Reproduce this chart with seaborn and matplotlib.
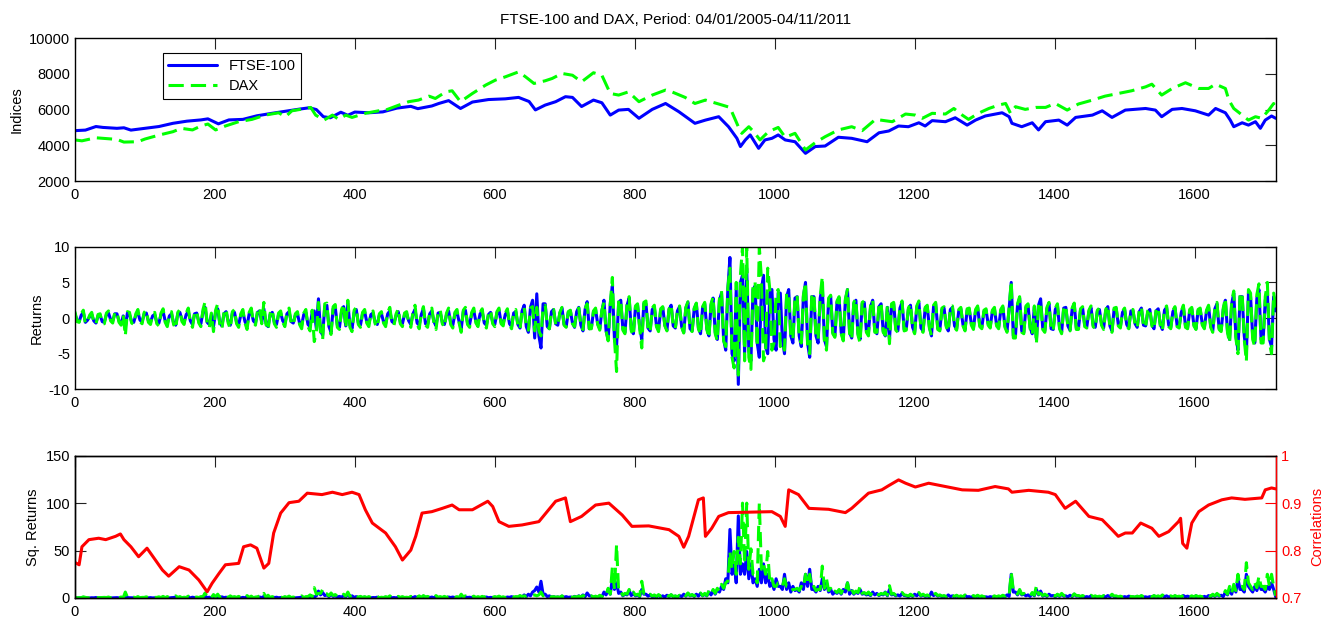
import numpy as np
import pandas as pd
import matplotlib
matplotlib.use("Agg")
import matplotlib.pyplot as plt
import seaborn as sns

# ---------------- data ----------------
title = "FTSE-100 and DAX, Period: 04/01/2005-04/11/2011"

ftse_days = [0, 15, 30, 40, 60, 70, 80, 100, 120, 140, 160, 180, 190, 205, 220, 240, 260, 280, 300, 320,
             335, 345, 355, 365, 380, 390, 400, 420, 440, 460, 480, 490, 510, 520, 534, 551, 568, 591, 615, 634,
             649, 658, 672, 687, 701, 711, 724, 741, 753, 765, 777, 791, 806, 825, 844, 863, 886, 901, 920, 934,
             946, 951, 958, 965, 977, 986, 996, 1005, 1015, 1029, 1044, 1058, 1072, 1091, 1110, 1132, 1149, 1163,
             1177, 1191, 1206, 1215, 1225, 1244, 1258, 1275, 1287, 1301, 1325, 1335, 1339, 1353, 1368, 1377, 1387,
             1406, 1418, 1430, 1454, 1468, 1482, 1501, 1530, 1544, 1553, 1568, 1582, 1601, 1620, 1630, 1644, 1651,
             1656, 1668, 1677, 1687, 1694, 1701, 1710, 1716]
ftse_index = [4820, 4850, 5050, 5000, 4950, 4980, 4850, 4950, 5050, 5230, 5350, 5420, 5480, 5200, 5420, 5450,
              5650, 5780, 5900, 6020, 6100, 6000, 5600, 5540, 5850, 5680, 5860, 5820, 5870, 6080, 6180, 6050,
              6200, 6340, 6500, 6060, 6420, 6560, 6600, 6680, 6450, 5980, 6250, 6440, 6720, 6680, 6170, 6530,
              6380, 5690, 5970, 6010, 5510, 6010, 6340, 5880, 5230, 5410, 5600, 5040, 4390, 3930, 4300, 4580,
              3830, 4300, 4390, 4580, 4300, 4200, 3550, 3930, 3960, 4450, 4390, 4200, 4700, 4800, 5080, 5040,
              5260, 5080, 5380, 5320, 5540, 5130, 5410, 5640, 5820, 5600, 5230, 5040, 5260, 4860, 5320, 5410,
              5130, 5560, 5690, 5930, 5560, 5970, 6060, 5970, 5600, 6010, 6060, 5930, 5690, 6060, 5820, 5410,
              5040, 5260, 5130, 5320, 4950, 5410, 5640, 5510]

dax_days = [0, 10, 30, 60, 70, 90, 100, 120, 140, 152, 168, 180, 190, 201, 215, 234, 253, 272, 291, 301, 310,
            330, 337, 344, 356, 368, 377, 387, 396, 415, 434, 444, 463, 477, 491, 506, 515, 530, 539, 551, 568,
            587, 601, 615, 634, 644, 656, 672, 682, 696, 711, 724, 741, 753, 765, 777, 791, 806, 825, 844, 853,
            872, 886, 901, 920, 936, 948, 953, 963, 970, 979, 991, 1005, 1015, 1029, 1044, 1058, 1072, 1091,
            1110, 1125, 1144, 1168, 1187, 1201, 1211, 1225, 1244, 1256, 1268, 1277, 1291, 1306, 1320, 1330,
            1337, 1344, 1358, 1373, 1387, 1401, 1418, 1434, 1454, 1472, 1491, 1510, 1530, 1539, 1553, 1568,
            1587, 1606, 1620, 1630, 1644, 1649, 1656, 1668, 1677, 1687, 1696, 1706, 1713, 1716]
dax_index = [4300, 4250, 4420, 4330, 4180, 4200, 4350, 4570, 4760, 4950, 4860, 5080, 5190, 4860, 5080, 5320,
             5450, 5690, 5820, 5600, 5930, 6060, 6120, 5690, 5410, 5690, 5450, 5690, 5560, 5790, 5930, 5970,
             6250, 6440, 6530, 6750, 6620, 6990, 7050, 6440, 6900, 7370, 7650, 7830, 8110, 7830, 7460, 7610,
             7740, 8020, 7920, 7550, 8060, 7920, 6900, 6810, 6990, 6440, 6810, 7090, 6990, 6680, 6340, 6530,
             6310, 6120, 5040, 4670, 5040, 4760, 4300, 4760, 5000, 4450, 4670, 3740, 4150, 4480, 4860, 5040,
             4820, 5450, 5320, 5750, 5690, 5510, 5790, 5750, 6060, 5690, 5450, 5790, 6060, 6250, 6340, 5790,
             6160, 6010, 6120, 6120, 6340, 5970, 6310, 6530, 6750, 6900, 7050, 7270, 7420, 6810, 7180, 7500,
             7180, 7180, 7420, 7180, 6530, 6060, 5690, 5410, 5600, 5510, 5970, 6340, 6010]

# returns read every 6 trading days (days 0, 6, ..., 1716)
ret_days_a = list(range(0, 1717, 6))
ftse_ret_a = [
    0.6, -0.5, 0.8, -0.3, 0.5, -0.7, 0.4, -0.6, 0.7, -0.4,
    0.6, -0.8, -1.3, 0.5, -0.6, 0.8, -0.5, 0.7, -0.6, 0.5,
    -0.7, 0.9, -0.8, 0.6, -1.0, 0.8, -0.6, 0.9, -0.9, 0.7,
    -0.8, 1.5, -0.9, -1.2, 1.3, -1.1, 0.9, -1.0, 0.8, -0.9,
    0.8, -1.1, 0.9, -0.7, 1.0, 1.3, -1.2, 0.8, -0.9, 0.7,
    -0.8, 0.9, -0.7, 0.6, -1.0, 0.8, -1.2, 1.0, 2.7, -2.4,
    1.8, -2.0, 1.5, -1.3, 1.6, 2.0, -1.5, 1.2, -1.0, 0.9,
    -0.8, 0.7, -0.9, 0.6, -0.8, 1.0, -0.7, 0.9, -0.8, 0.6,
    -0.9, 1.2, -1.0, 1.3, -0.9, 1.0, -1.1, 0.8, -0.9, 1.0,
    -1.0, 0.8, -1.5, 1.1, -0.9, 1.0, -0.8, 0.9, -1.0, 0.8,
    -0.9, 1.1, -0.8, 1.0, -1.2, 0.9, -1.4, 1.8, -2.0, 2.5,
    3.4, -4.2, 2.0, -1.5, 1.2, -1.0, 1.4, -1.2, 1.0, -1.3,
    1.5, -1.8, 2.3, -1.4, 1.2, -1.5, 2.5, -3.0, 4.5, -4.0,
    2.5, -2.0, 2.8, -2.2, 1.8, -3.0, 2.0, -1.8, 1.5, -1.7,
    1.5, -1.7, 1.8, -1.4, 1.6, -2.0, 2.2, -1.8, 2.0, -2.2,
    2.0, -2.5, 2.8, -3.0, 3.5, -4.5, 8.5, -6.0, -9.3, 6.0,
    7.0, -6.0, 4.5, -5.5, 6.0, -5.0, 4.0, -4.5, 3.5, -5.0,
    4.0, -3.5, 3.0, -4.0, 5.0, -5.5, 3.0, -3.5, 4.5, -4.0,
    3.0, -2.5, 2.8, -3.0, 4.0, -2.8, 2.5, -3.0, 2.2, -2.0,
    2.5, -2.2, 2.0, -2.5, -3.0, 2.0, -1.8, 2.2, -1.5, 1.8,
    -2.0, 2.2, -1.8, 1.5, -2.5, 2.0, -1.6, 1.4, -1.8, 1.5,
    -1.5, 1.3, -1.6, 1.2, -1.4, 1.5, -1.3, 1.1, -1.2, 1.3,
    -1.3, 1.5, -1.8, 5.0, -2.5, 2.8, -2.0, 1.8, -2.2, -3.0,
    2.7, -1.8, 2.0, -1.6, 1.8, -2.0, 1.5, -1.7, 2.0, -1.5,
    1.4, -1.2, 1.5, -1.3, 1.2, -1.4, 1.6, -1.8, 1.3, -1.2,
    1.2, -1.4, 1.0, -1.3, 1.4, -1.1, 1.2, -1.5, 1.3, -1.6,
    1.5, -1.3, 1.4, -1.2, 1.6, -1.4, 1.3, -1.5, 1.2, -1.3,
    1.6, -1.8, 2.0, -1.7, 2.5, -3.0, 3.5, -4.5, 3.0, -5.0,
    3.0, -3.5, 4.0, -3.0, 3.5, -4.0, 1.0]
dax_ret_a = [
    0.9, -0.6, 1.1, -0.5, 0.8, -0.9, 0.6, -0.8, 1.0, -0.7,
    0.9, -1.0, -2.5, 0.8, -0.9, 1.2, -0.8, 1.1, -0.9, 0.8,
    -1.1, 1.3, -1.2, 0.9, -1.5, 1.2, -0.9, 1.4, -1.3, 1.0,
    -1.2, 2.3, -1.4, -1.9, 2.0, -1.6, 1.3, -1.5, 1.2, -1.3,
    1.2, -1.6, 1.4, -1.0, 1.5, 2.2, -1.7, 1.2, -1.3, 1.0,
    -1.2, 1.4, -1.0, 0.9, -1.5, 1.2, -1.8, -3.3, 2.2, -3.0,
    2.1, -2.3, 1.9, -1.6, 2.0, 2.5, -1.9, 1.5, -1.3, 1.2,
    -1.2, 1.0, -1.3, 0.9, -1.2, 1.5, -1.0, 1.3, -1.2, 0.9,
    -1.3, 1.8, -1.5, 1.6, -1.3, 1.4, -1.6, 1.2, -1.3, 1.4,
    -1.4, 1.2, -2.0, 1.5, -1.3, 1.4, -1.2, 1.3, -1.4, 1.1,
    -1.2, 1.4, -1.1, 1.3, -1.5, 1.2, -1.6, 1.5, -1.7, 1.6,
    1.5, -2.5, 1.8, -1.5, 1.2, -1.1, 1.5, -1.3, 1.1, -1.2,
    1.4, -1.6, 2.0, -1.5, 1.4, -1.7, 2.2, -3.2, 5.7, -7.5,
    2.6, -2.2, 3.0, -2.5, 2.0, -4.2, 2.4, -2.0, 1.8, -1.9,
    1.6, -1.8, 1.9, -1.5, 1.7, -2.1, 2.3, -1.9, 2.1, -2.3,
    2.2, -2.8, 3.0, -3.2, 3.8, -4.0, 7.0, -7.0, -8.0, 10.0,
    10.0, -7.2, 5.0, 10.0, -6.0, 7.0, -4.5, 3.5, -4.0, -4.5,
    3.5, -3.0, 3.2, -3.5, 5.0, -5.0, 3.5, -3.0, 5.8, -4.5,
    3.2, -2.7, 3.0, -3.2, 4.0, -3.0, 2.7, -3.5, 2.4, -2.5,
    2.6, -2.0, 2.2, -2.4, -3.6, 2.2, -2.0, 2.4, -1.7, 2.0,
    -2.2, 2.4, -2.0, 1.8, -2.4, 2.2, -1.8, 1.6, -1.9, 1.7,
    -1.7, 1.5, -1.8, 1.4, -1.6, 1.7, -1.5, 1.3, -1.4, 1.5,
    -1.5, 1.7, -2.0, 5.2, -2.8, 3.0, -2.2, 2.0, -2.4, -3.6,
    2.2, -2.0, 2.2, -1.8, 2.0, -2.2, 1.7, -1.8, 2.1, -1.6,
    1.6, -1.4, 1.7, -1.5, 1.4, -1.6, 1.8, -2.0, 1.5, -1.4,
    1.4, -1.5, 1.2, -1.4, 1.6, -1.3, 1.4, -1.6, 1.5, -1.8,
    1.7, -1.5, 1.6, -1.4, 1.8, -1.5, 1.5, -1.6, 1.4, -1.5,
    1.8, -2.0, 2.2, -1.9, 2.8, -3.5, 3.8, -5.0, 3.5, -6.1,
    3.5, -4.0, 4.8, -3.5, 5.0, -5.0, 1.5]

# returns read in between (days 3, 9, ..., 1713)
ret_days_b = list(range(3, 1717, 6))
ftse_ret_b = [
    -0.3, 0.4, -0.6, 0.2, -0.4, 0.3, -0.5, 0.5, -0.2, 0.6,
    -0.4, 0.3, 0.7, -0.5, 0.4, -0.3, 0.6, -0.4, 0.3, -0.6,
    0.5, -0.4, 0.3, -0.7, 0.6, -0.3, 0.5, -0.4, 0.6, -0.5,
    0.9, -0.6, 0.5, 0.8, -0.7, 0.6, -0.5, 0.7, -0.6, 0.4,
    -0.5, 0.6, -0.4, 0.8, -0.6, -0.7, 0.5, -0.6, 0.5, -0.4,
    0.6, -0.5, 0.4, -0.7, 0.5, -0.9, 0.8, -1.5, -1.8, 1.6,
    -1.2, 1.3, -1.0, 0.9, -1.1, -1.0, 0.8, -0.7, 0.6, -0.5,
    0.5, -0.6, 0.4, -0.5, 0.6, -0.5, 0.4, -0.6, 0.5, -0.4,
    0.6, -0.7, 0.5, -0.8, 0.6, -0.5, 0.7, -0.6, 0.5, -0.7,
    0.6, -0.5, 0.9, -0.7, 0.6, -0.5, 0.6, -0.7, 0.5, -0.6,
    0.7, -0.6, 0.5, -0.8, 0.7, -0.9, 1.0, -1.2, 1.5, -2.8,
    -2.5, 2.0, -1.2, 0.9, -0.8, 0.7, -0.9, 0.8, -0.7, 0.9,
    -1.0, 1.2, -1.5, 0.9, -0.8, 1.0, -1.8, 2.0, -3.0, 2.2,
    -1.5, 1.8, -1.6, 1.5, -1.2, 2.0, -1.4, 1.2, -1.0, 1.1,
    -1.0, 1.2, -1.1, 1.0, -1.2, 1.4, -1.5, 1.3, -1.4, 1.5,
    -1.5, 1.8, -2.0, 2.5, -3.0, 4.0, -5.0, 4.0, 5.0, -5.0,
    -4.5, 4.0, -3.5, 4.0, -4.0, 3.5, -3.0, 3.5, -3.0, 3.0,
    -2.5, 2.8, -2.5, 3.0, -3.5, 3.0, -2.5, 2.8, -3.0, 2.5,
    -2.0, 2.2, -2.0, 2.5, -2.0, 2.0, -2.2, 2.0, -1.8, 1.6,
    -1.8, 1.6, -1.8, 1.5, 1.8, -1.5, 1.4, -1.6, 1.2, -1.3,
    1.5, -1.4, 1.3, -1.2, 1.6, -1.4, 1.2, -1.0, 1.2, -1.1,
    1.0, -0.9, 1.1, -0.8, 1.0, -1.0, 0.9, -0.8, 0.9, -0.9,
    1.0, -1.1, 1.3, -2.5, 1.8, -1.8, 1.5, -1.3, 1.5, 1.8,
    -1.4, 1.3, -1.5, 1.2, -1.3, 1.4, -1.1, 1.2, -1.4, 1.1,
    -1.0, 0.9, -1.0, 0.9, -0.8, 1.0, -1.1, 1.2, -0.9, 0.8,
    -0.9, 1.0, -0.8, 0.9, -1.0, 0.8, -0.9, 1.0, -0.9, 1.1,
    -1.0, 0.9, -1.0, 0.8, -1.1, 1.0, -0.9, 1.0, -0.8, 0.9,
    -1.1, 1.3, -1.4, 1.2, -1.8, 2.0, -2.5, 3.0, -2.5, 3.5,
    -2.5, 2.8, -3.0, 2.5, -3.0, 3.0]
dax_ret_b = [
    -0.5, 0.6, -0.8, 0.4, -0.6, 0.5, -0.7, 0.7, -0.4, 0.8,
    -0.6, 0.5, 0.9, -0.7, 0.6, -0.5, 0.8, -0.6, 0.5, -0.8,
    0.7, -0.6, 0.5, -0.9, 0.8, -0.5, 0.7, -0.6, 0.8, -0.7,
    1.2, -0.8, 0.7, 1.1, -0.9, 0.8, -0.7, 0.9, -0.8, 0.6,
    -0.7, 0.8, -0.6, 1.1, -0.8, -0.9, 0.7, -0.8, 0.7, -0.6,
    0.8, -0.7, 0.6, -0.9, 0.7, -1.2, 1.1, -2.0, -2.2, 2.0,
    -1.5, 1.6, -1.3, 1.2, -1.4, -1.3, 1.1, -0.9, 0.8, -0.7,
    0.7, -0.8, 0.6, -0.7, 0.8, -0.7, 0.6, -0.8, 0.7, -0.6,
    0.8, -0.9, 0.7, -1.0, 0.8, -0.7, 0.9, -0.8, 0.7, -0.9,
    0.8, -0.7, 1.1, -0.9, 0.8, -0.7, 0.8, -0.9, 0.7, -0.8,
    0.9, -0.8, 0.7, -1.0, 0.9, -1.1, 1.2, -1.3, 1.4, -1.8,
    -1.8, 1.5, -1.1, 1.0, -0.9, 0.8, -1.0, 0.9, -0.8, 1.0,
    -1.1, 1.3, -1.5, 1.0, -0.9, 1.1, -1.8, 2.0, -3.0, 2.5,
    -1.7, 2.0, -1.8, 1.7, -1.4, 2.2, -1.6, 1.4, -1.2, 1.3,
    -1.1, 1.3, -1.2, 1.1, -1.3, 1.5, -1.6, 1.4, -1.5, 1.6,
    -1.6, 2.0, -2.2, 2.7, -3.2, 4.2, -5.5, 5.0, 6.0, -6.0,
    -5.5, 5.0, -4.0, 5.5, -5.0, 4.0, -3.5, 4.0, -3.5, 3.5,
    -2.8, 3.0, -2.8, 3.2, -3.8, 3.2, -2.8, 3.0, -3.2, 2.8,
    -2.2, 2.4, -2.2, 2.7, -2.2, 2.2, -2.4, 2.2, -2.0, 1.8,
    -2.0, 1.8, -2.0, 1.7, 2.0, -1.7, 1.6, -1.8, 1.4, -1.5,
    1.7, -1.6, 1.5, -1.4, 1.8, -1.6, 1.4, -1.2, 1.4, -1.3,
    1.2, -1.1, 1.3, -1.0, 1.2, -1.2, 1.1, -1.0, 1.1, -1.1,
    1.2, -1.3, 1.5, -2.8, 2.0, -2.0, 1.7, -1.5, 1.7, 2.0,
    -1.6, 1.5, -1.7, 1.4, -1.5, 1.6, -1.3, 1.4, -1.6, 1.3,
    -1.2, 1.1, -1.2, 1.1, -1.0, 1.2, -1.3, 1.4, -1.1, 1.0,
    -1.1, 1.2, -1.0, 1.1, -1.2, 1.0, -1.1, 1.2, -1.1, 1.3,
    -1.2, 1.1, -1.2, 1.0, -1.3, 1.2, -1.1, 1.2, -1.0, 1.1,
    -1.3, 1.5, -1.6, 1.4, -2.0, 2.3, -2.8, 3.5, -3.0, 4.0,
    -3.0, 3.3, -3.5, 3.0, -3.5, 3.5]

corr_days = [0, 6, 10, 20, 34, 44, 58, 65, 70, 80, 91, 103, 115, 125, 134, 149, 163, 177, 189, 196, 206,
             215, 234, 241, 251, 260, 270, 277, 284, 294, 306, 320, 332, 353, 368, 382, 396, 406, 415, 425,
             444, 458, 468, 480, 487, 496, 510, 525, 539, 549, 568, 590, 597, 606, 620, 639, 663, 687, 701,
             708, 724, 744, 763, 782, 796, 820, 849, 863, 870, 877, 891, 898, 901, 910, 920, 934, 996, 1008,
             1015, 1020, 1034, 1049, 1077, 1101, 1110, 1134, 1153, 1163, 1177, 1187, 1201, 1220, 1244, 1268,
             1291, 1315, 1334, 1339, 1363, 1391, 1401, 1415, 1430, 1449, 1468, 1482, 1491, 1501, 1511, 1523,
             1539, 1549, 1563, 1577, 1580, 1583, 1589, 1596, 1606, 1620, 1639, 1653, 1672, 1696, 1701, 1710,
             1716]
correlation = [0.775, 0.770, 0.808, 0.823, 0.826, 0.823, 0.830, 0.835, 0.823, 0.808, 0.787, 0.805, 0.780,
               0.759, 0.746, 0.766, 0.759, 0.738, 0.713, 0.731, 0.752, 0.770, 0.773, 0.808, 0.812, 0.805,
               0.763, 0.773, 0.837, 0.879, 0.901, 0.904, 0.921, 0.918, 0.923, 0.918, 0.923, 0.918, 0.886,
               0.858, 0.837, 0.808, 0.780, 0.801, 0.830, 0.879, 0.882, 0.889, 0.896, 0.886, 0.886, 0.904,
               0.893, 0.861, 0.851, 0.854, 0.861, 0.904, 0.911, 0.861, 0.872, 0.896, 0.900, 0.875, 0.851,
               0.852, 0.844, 0.830, 0.807, 0.830, 0.907, 0.911, 0.830, 0.847, 0.872, 0.880, 0.882, 0.872,
               0.851, 0.928, 0.918, 0.889, 0.887, 0.880, 0.889, 0.921, 0.928, 0.937, 0.949, 0.942, 0.934,
               0.942, 0.935, 0.928, 0.927, 0.935, 0.930, 0.923, 0.927, 0.923, 0.918, 0.889, 0.904, 0.872,
               0.865, 0.844, 0.830, 0.837, 0.837, 0.858, 0.847, 0.830, 0.840, 0.861, 0.868, 0.815, 0.805,
               0.858, 0.882, 0.896, 0.907, 0.911, 0.908, 0.911, 0.928, 0.932, 0.930]

# combined return table (sorted by day); squared returns derive from it
returns = pd.DataFrame({
    "day": ret_days_a + ret_days_b,
    "ftse": ftse_ret_a + ftse_ret_b,
    "dax": dax_ret_a + dax_ret_b,
}).sort_values("day").reset_index(drop=True)
returns["ftse_sq"] = returns["ftse"] ** 2
returns["dax_sq"] = returns["dax"] ** 2

# ---------------- style ----------------
sns.set_theme(style="white")
plt.rcParams['font.family'] = ['Liberation Sans', 'DejaVu Sans']
plt.rcParams.update({
    "axes.unicode_minus": False,
    "xtick.direction": "in", "ytick.direction": "in",
    "xtick.top": True, "ytick.right": True,
    "xtick.major.size": 8, "ytick.major.size": 8,
    "xtick.major.width": 0.8, "ytick.major.width": 0.8,
    "xtick.color": "#222222", "ytick.color": "#222222",
    "xtick.labelsize": 10.5, "ytick.labelsize": 10.5,
    "axes.labelsize": 10.5, "axes.edgecolor": "black", "axes.linewidth": 1.0,
    "axes.labelcolor": "black", "text.color": "black",
    "xtick.labelcolor": "black", "ytick.labelcolor": "black",
})

BLUE = "#0000ff"
GREEN = "#00ff00"
RED = "#ff0000"
LW = 2.2
DASH = (5, 2.3)

fig = plt.figure(figsize=(13.38, 6.2), dpi=100)
left, width = 0.056, 0.898
ax1 = fig.add_axes([left, 0.708, width, 0.2306])
ax2 = fig.add_axes([left, 0.372, width, 0.230])
ax3 = fig.add_axes([left, 0.0355, width, 0.2295])

XMAX = 1717
xt = [0, 200, 400, 600, 800, 1000, 1200, 1400, 1600]

# --- top: indices ---
sns.lineplot(x=ftse_days, y=ftse_index, ax=ax1, color=BLUE, linewidth=LW)
sns.lineplot(x=dax_days, y=dax_index, ax=ax1, color=GREEN, linewidth=LW)
ax1.lines[-1].set_dashes(DASH)
ax1.set_ylim(2000, 10000)
ax1.set_yticks([2000, 4000, 6000, 8000, 10000])
ax1.set_ylabel("Indices")
ax1.set_title(title, fontsize=11, pad=10)
leg = ax1.legend(handles=[ax1.lines[0], ax1.lines[1]], labels=["FTSE-100", "DAX"],
                 loc="upper left", bbox_to_anchor=(0.073, 0.897), borderaxespad=0,
                 fancybox=False, framealpha=1, edgecolor="black", fontsize=10.5,
                 handlelength=3.3, labelspacing=0.45)
leg.get_frame().set_linewidth(0.8)

# --- middle: returns ---
sns.lineplot(data=returns, x="day", y="ftse", ax=ax2, color=BLUE, linewidth=LW)
sns.lineplot(data=returns, x="day", y="dax", ax=ax2, color=GREEN, linewidth=LW)
ax2.lines[-1].set_dashes(DASH)
ax2.set_ylim(-10, 10)
ax2.set_yticks([-10, -5, 0, 5, 10])
ax2.set_ylabel("Returns")

# --- bottom: squared returns + correlations ---
sns.lineplot(data=returns, x="day", y="ftse_sq", ax=ax3, color=BLUE, linewidth=LW)
sns.lineplot(data=returns, x="day", y="dax_sq", ax=ax3, color=GREEN, linewidth=LW)
ax3.lines[-1].set_dashes(DASH)
ax3.set_ylim(0, 150)
ax3.set_yticks([0, 50, 100, 150])
ax3.set_ylabel("Sq. Returns")
ax3.tick_params(axis="y", right=False)

ax4 = ax3.twinx()
sns.lineplot(x=corr_days, y=correlation, ax=ax4, color=RED, linewidth=LW)
ax4.set_ylim(0.7, 1.0)
ax4.set_yticks([0.7, 0.8, 0.9, 1.0])
ax4.set_yticklabels(["0.7", "0.8", "0.9", "1"])
ax4.tick_params(axis="y", direction="in", length=8, colors=RED, labelcolor=RED, labelsize=10.5)
ax4.set_ylabel("Correlations", color=RED, rotation=90, labelpad=6)
ax4.spines["right"].set_color(RED)
ax4.set_xlim(0, XMAX)

for ax in (ax1, ax2, ax3):
    ax.set_xlim(0, XMAX)
    ax.set_xticks(xt)
    ax.set_xlabel("")
    ax.tick_params(axis="x", pad=5)

fig.savefig("out.png", dpi=100)
